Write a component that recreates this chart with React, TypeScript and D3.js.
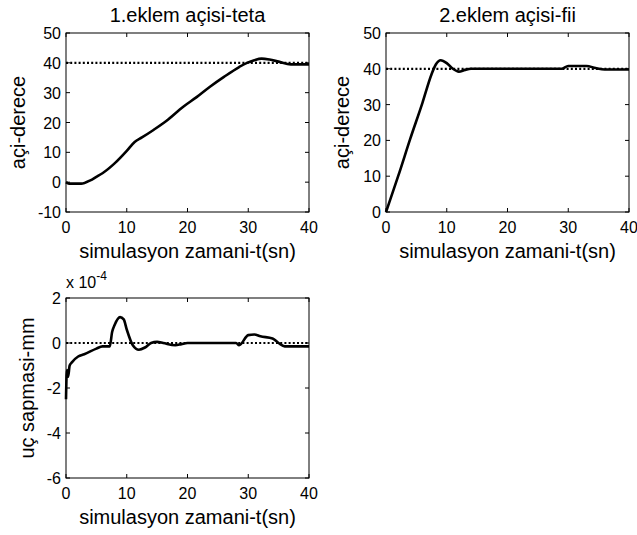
import React from 'react';
import * as d3 from 'd3';

// 1. eklem (teta), derece
const tetaT = [0, 0.5, 2.5, 4, 5, 6, 8, 10, 11.3, 12.5, 14.4, 16.5, 19.3, 21.5, 23.7, 26, 28.5, 29.8, 31, 32.2, 33.5, 35, 37, 40];
const tetaV = [0, -0.5, -0.5, 0.6, 1.8, 3, 6.3, 10.5, 13.5, 15, 17.5, 20.5, 25.3, 28.5, 32, 35.3, 38.6, 40, 40.9, 41.4, 41.1, 40.4, 39.5, 39.5];

// 2. eklem (fii), derece
const fiiT = [0, 1, 2, 4, 6, 7.5, 8.2, 9, 10, 11, 12, 13, 14, 20, 28.9, 30, 33, 34.5, 36, 40];
const fiiV = [0, 5, 10, 20.5, 30.5, 38.5, 41.2, 42.4, 41.6, 40, 39.2, 39.7, 40, 40, 40, 40.8, 40.8, 40.2, 39.8, 39.8];

// uc sapmasi, x 1e-4 mm
const sapT = [0, 0.15, 0.35, 0.6, 1, 2, 3, 5, 6, 7.2, 7.6, 8, 8.9, 9.5, 10, 11, 12, 13, 14, 15, 16, 18, 19, 20, 28, 28.5, 30, 31, 32, 34, 35, 36, 40];
const sapV = [-2.5, -1.2, -1.5, -1.0, -0.85, -0.6, -0.5, -0.25, -0.15, -0.15, 0.5, 0.8, 1.15, 1.05, 0.6, -0.1, -0.3, -0.2, 0, 0.05, 0, -0.1, -0.05, 0, 0, -0.1, 0.35, 0.38, 0.3, 0.2, 0, -0.15, -0.15];

const xTicks = [0, 10, 20, 30, 40];
const angleTicks1 = [-10, 0, 10, 20, 30, 40, 50];
const angleTicks2 = [0, 10, 20, 30, 40, 50];
const sapTicks = [-6, -4, -2, 0, 2];

const titles = ['1.eklem açisi-teta', '2.eklem açisi-fii'];
const xLabel = 'simulasyon zamani-t(sn)';
const yLabels = ['açi-derece', 'açi-derece', 'uç sapmasi-mm'];

const font = '"Liberation Sans", Arial, sans-serif';

type PanelProps = {
  left: number;
  top: number;
  width: number;
  height: number;
  ts: number[];
  vs: number[];
  yDomain: [number, number];
  yTicks: number[];
  ref0: number;
  title?: string;
  yLabel: string;
  yLabelOffset: number;
  exponent?: boolean;
};

function Panel(p: PanelProps) {
  const x = d3.scaleLinear().domain([0, 40]).range([0, p.width]);
  const y = d3.scaleLinear().domain(p.yDomain).range([p.height, 0]);
  const pts = p.ts.map((t, i) => [t, p.vs[i]] as [number, number]);
  const line = d3
    .line<[number, number]>()
    .x(d => x(d[0]))
    .y(d => y(d[1]))
    .curve(d3.curveMonotoneX);
  const tk = 4;
  return (
    <g transform={`translate(${p.left},${p.top})`}>
      <rect width={p.width} height={p.height} fill="white" stroke="black" strokeWidth={1} />
      {xTicks.map(t => (
        <g key={'x' + t}>
          <line x1={x(t)} x2={x(t)} y1={p.height} y2={p.height - tk} stroke="black" />
          <line x1={x(t)} x2={x(t)} y1={0} y2={tk} stroke="black" />
          <text x={x(t)} y={p.height + 21} textAnchor="middle" fontSize={16} fontFamily={font}>
            {t}
          </text>
        </g>
      ))}
      {p.yTicks.map(t => (
        <g key={'y' + t}>
          <line x1={0} x2={tk} y1={y(t)} y2={y(t)} stroke="black" />
          <line x1={p.width - tk} x2={p.width} y1={y(t)} y2={y(t)} stroke="black" />
          <text x={-5} y={y(t) + 6} textAnchor="end" fontSize={16} fontFamily={font}>
            {t}
          </text>
        </g>
      ))}
      <line
        x1={0}
        x2={p.width}
        y1={y(p.ref0)}
        y2={y(p.ref0)}
        stroke="black"
        strokeWidth={2.2}
        strokeDasharray="2,2.2"
      />
      <path d={line(pts) || ''} fill="none" stroke="black" strokeWidth={2.6} strokeLinejoin="round" />
      {p.title && (
        <text x={p.width / 2} y={-11} textAnchor="middle" fontSize={20} fontFamily={font}>
          {p.title}
        </text>
      )}
      <text x={p.width / 2} y={p.height + 46} textAnchor="middle" fontSize={20} fontFamily={font}>
        {xLabel}
      </text>
      <text
        transform={`translate(${-p.yLabelOffset},${p.height / 2}) rotate(-90)`}
        textAnchor="middle"
        fontSize={20}
        fontFamily={font}
      >
        {p.yLabel}
      </text>
      {p.exponent && (
        <text x={0} y={-10} fontSize={16} fontFamily={font}>
          x 10
          <tspan dy={-8} fontSize={12}>
            -4
          </tspan>
        </text>
      )}
    </g>
  );
}

export default function App() {
  return (
    <svg
      width={637}
      height={535}
      style={{ position: 'absolute', left: 0, top: 0, background: 'white' }}
    >
      <rect width={637} height={535} fill="white" />
      <Panel
        left={66}
        top={33}
        width={243}
        height={179}
        ts={tetaT}
        vs={tetaV}
        yDomain={[-10, 50]}
        yTicks={angleTicks1}
        ref0={40}
        title={titles[0]}
        yLabel={yLabels[0]}
        yLabelOffset={41}
      />
      <Panel
        left={386}
        top={33}
        width={243}
        height={179}
        ts={fiiT}
        vs={fiiV}
        yDomain={[0, 50]}
        yTicks={angleTicks2}
        ref0={40}
        title={titles[1]}
        yLabel={yLabels[1]}
        yLabelOffset={37}
      />
      <Panel
        left={66}
        top={298}
        width={243}
        height={180}
        ts={sapT}
        vs={sapV}
        yDomain={[-6, 2]}
        yTicks={sapTicks}
        ref0={0}
        yLabel={yLabels[2]}
        yLabelOffset={32}
        exponent
      />
    </svg>
  );
}
